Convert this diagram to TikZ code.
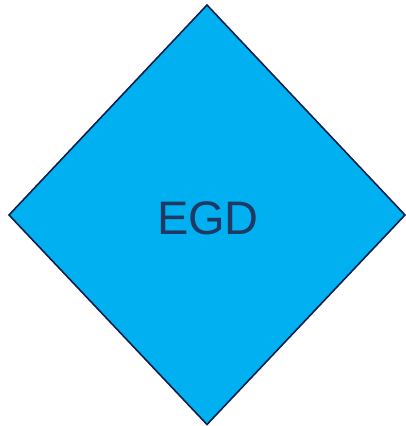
\documentclass[tikz,border=0pt]{standalone}
\usepackage{fontspec}
\setmainfont{Liberation Sans}
\definecolor{fillblue}{HTML}{00B0F0}
\definecolor{edgenavy}{HTML}{0C1F4A}
\definecolor{textnavy}{HTML}{1F3864}
\begin{document}
\begin{tikzpicture}[x=1pt,y=-1pt,
  diamondshape/.style={draw=edgenavy,fill=fillblue,line width=1.6pt,line join=miter},
  labeltext/.style={text=textnavy,font=\fontsize{47}{50}\selectfont}]
\useasboundingbox (0,0) rectangle (406,426);
\coordinate (t) at (207,5);
\coordinate (r) at (405,215);
\coordinate (b) at (207,424.5);
\coordinate (l) at (9,215);
\draw[diamondshape] (t) -- (r) -- (b) -- (l) -- cycle;
\node[labeltext,anchor=base] (lbl) at (208,234) {EGD};
\end{tikzpicture}
\end{document}
